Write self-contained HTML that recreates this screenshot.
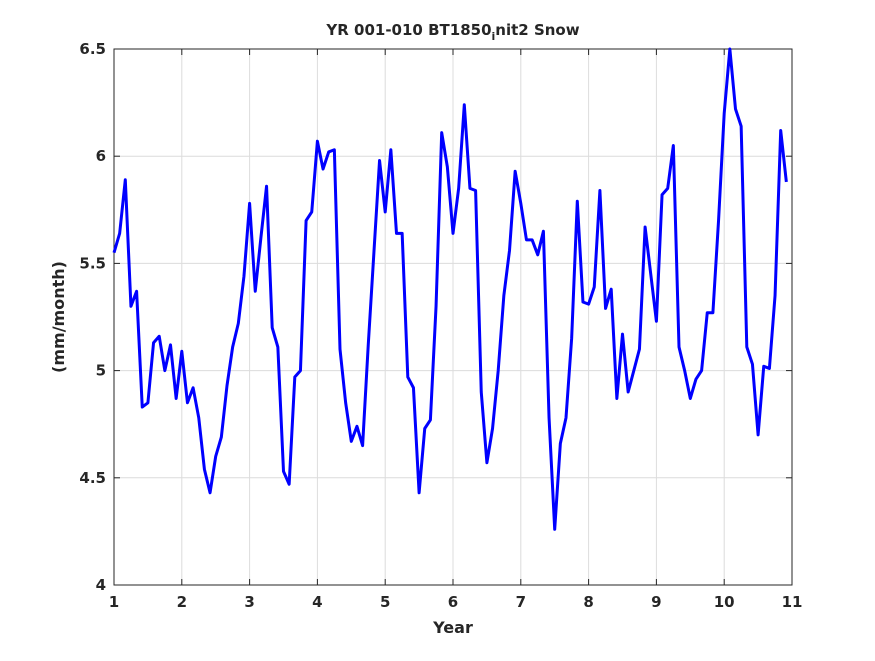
<!DOCTYPE html>
<html><head><meta charset="utf-8"><style>
body{margin:0;background:#fff;}
svg text{font-family:"DejaVu Sans","Liberation Sans",sans-serif;font-weight:bold;fill:#262626;}
</style></head><body>
<svg id="chart" width="875" height="656" viewBox="0 0 875 656" xmlns="http://www.w3.org/2000/svg">
<rect x="0" y="0" width="875" height="656" fill="#fff"/>
<rect x="114" y="49" width="678" height="536" fill="#fff" stroke="none"/>
<g id="grid"></g>
<g id="axes"></g>
<path id="line" fill="none" stroke="#0000ff" stroke-width="3" stroke-linejoin="round"/>
<text x="453" y="35" font-size="15" text-anchor="middle">YR 001-010 BT1850<tspan font-size="11" dy="5">i</tspan><tspan dy="-5">nit2 Snow</tspan></text>
<text x="453" y="633" font-size="16" text-anchor="middle">Year</text>
<text x="0" y="0" font-size="16" text-anchor="middle" transform="translate(64,317) rotate(-90)">(mm/month)</text>
</svg>
<script>
const xTicks=[1,2,3,4,5,6,7,8,9,10,11];
const yTicks=[4,4.5,5,5.5,6,6.5];
const yTickLabels=["4","4.5","5","5.5","6","6.5"];
const snowValues=[5.55,5.64,5.89,5.30,5.37,4.83,4.85,5.13,5.16,5.00,5.12,4.87,
5.09,4.85,4.92,4.78,4.54,4.43,4.60,4.69,4.93,5.11,5.22,5.44,
5.78,5.37,5.62,5.86,5.20,5.11,4.53,4.47,4.97,5.00,5.70,5.74,
6.07,5.94,6.02,6.03,5.10,4.85,4.67,4.74,4.65,5.12,5.55,5.98,
5.74,6.03,5.64,5.64,4.97,4.92,4.43,4.73,4.77,5.30,6.11,5.95,
5.64,5.85,6.24,5.85,5.84,4.90,4.57,4.73,5.00,5.35,5.56,5.93,
5.78,5.61,5.61,5.54,5.65,4.78,4.26,4.66,4.78,5.15,5.79,5.32,
5.31,5.39,5.84,5.29,5.38,4.87,5.17,4.90,5.00,5.10,5.67,5.45,
5.23,5.82,5.85,6.05,5.11,5.00,4.87,4.96,5.00,5.27,5.27,5.70,
6.20,6.50,6.22,6.14,5.11,5.03,4.70,5.02,5.01,5.35,6.12,5.88];
const L=114,R=792,T=49,B=585;
const xs=v=>L+(v-1)/10*(R-L);
const ys=v=>B-(v-4)/2.5*(B-T);
const NS='http://www.w3.org/2000/svg';
const grid=document.getElementById('grid'),axes=document.getElementById('axes');
function mk(tag,attrs,parent){const e=document.createElementNS(NS,tag);for(const k in attrs)e.setAttribute(k,attrs[k]);parent.appendChild(e);return e;}
xTicks.forEach(t=>{
  const x=xs(t);
  const g=mk('line',{x1:x,x2:x,y1:T,y2:B,stroke:'#dcdcdc','stroke-width':1},grid);
  
  
  mk('line',{x1:x,x2:x,y1:B,y2:B-6,stroke:'#262626'},axes);
  mk('line',{x1:x,x2:x,y1:T,y2:T+6,stroke:'#262626'},axes);
  const tx=mk('text',{x:x,y:B+22,'font-size':15,'text-anchor':'middle'},axes);
  tx.textContent=String(t);
  
  
});
yTicks.forEach((t,i)=>{
  const y=ys(t);
  const g=mk('line',{x1:L,x2:R,y1:y,y2:y,stroke:'#dcdcdc','stroke-width':1},grid);
  
  
  mk('line',{x1:L,x2:L+6,y1:y,y2:y,stroke:'#262626'},axes);
  mk('line',{x1:R,x2:R-6,y1:y,y2:y,stroke:'#262626'},axes);
  const tx=mk('text',{x:L-8,y:y+5,'font-size':15,'text-anchor':'end'},axes);
  tx.textContent=yTickLabels[i];
  
  
});
const frame=mk('rect',{x:L,y:T,width:R-L,height:B-T,fill:'none',stroke:'#262626','stroke-width':1},axes);


let d='';
snowValues.forEach((v,i)=>{d+=(i?'L':'M')+xs(1+i/12).toFixed(2)+','+ys(v).toFixed(2);});
document.getElementById('line').setAttribute('d',d);
</script>
</body></html>
